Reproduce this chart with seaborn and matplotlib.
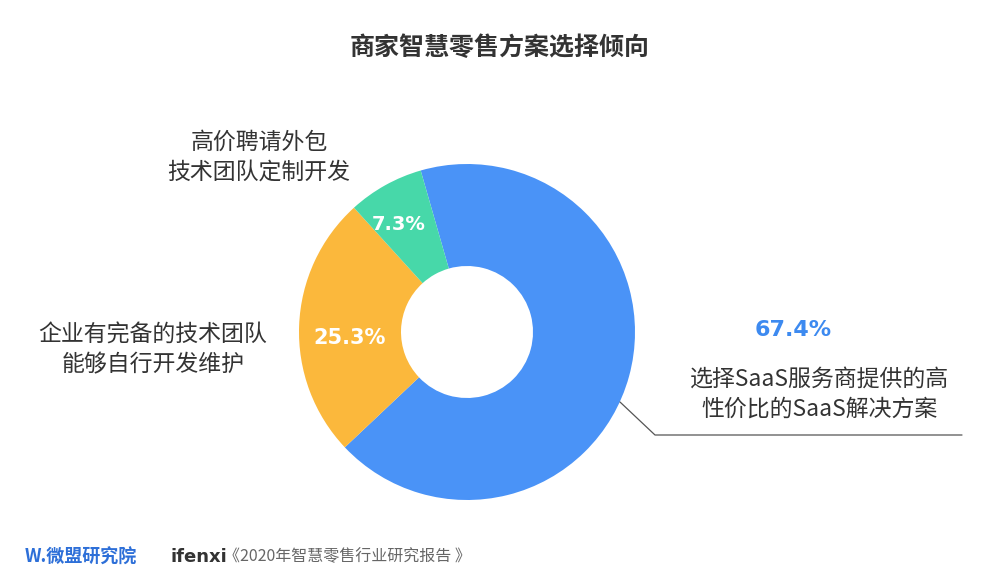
import matplotlib
matplotlib.use("Agg")
import matplotlib.pyplot as plt
import seaborn as sns

sns.set_theme(style="white")
plt.rcParams["font.family"] = "Noto Sans CJK SC"

labels = ["选择SaaS服务商提供的高\n性价比的SaaS解决方案", "企业有完备的技术团队\n能够自行开发维护", "高价聘请外包\n技术团队定制开发"]
values = [67.4, 25.3, 7.3]
pct_text = ["67.4%", "25.3%", "7.3%"]
colors = ["#4a93f7", "#fbb83c", "#47d8a9"]

W, H = 1000, 585
fig = plt.figure(figsize=(10, 5.85), dpi=100)
fig.patch.set_facecolor("white")
cx, cy, R = 467, 332, 168
ax = fig.add_axes([(cx - R) / W, (H - cy - R) / H, 2 * R / W, 2 * R / H])
ax.pie(values, colors=colors, startangle=106, counterclock=False,
       wedgeprops=dict(width=(R - 66) / R, edgecolor="none"))
ax.set_xlim(-1, 1)
ax.set_ylim(-1, 1)
ax.set_aspect("equal")
ax.patch.set_alpha(0)

def fx(x): return x / W
def fy(y): return 1 - y / H

def t(x, y, s, **kw):
    ax.text(fx(x), fy(y), s, transform=fig.transFigure, clip_on=False, zorder=10, **kw)

t(500, 48, "商家智慧零售方案选择倾向", ha="center", va="center", fontsize=18, color="#333333", fontweight="bold")
t(350, 338, pct_text[1], ha="center", va="center", fontsize=15, color="white", fontweight="bold", family="DejaVu Sans")
t(399, 224, pct_text[2], ha="center", va="center", fontsize=14, color="white", fontweight="bold", family="DejaVu Sans")
t(793, 330, pct_text[0], ha="center", va="center", fontsize=16, color="#3d8af0", fontweight="bold", family="DejaVu Sans")
t(820, 394, labels[0], ha="center", va="center", fontsize=16.5, color="#333333", linespacing=1.4)
fig.add_artist(plt.Line2D([fx(620), fx(655), fx(962)], [fy(402), fy(435), fy(435)], color="#555555", lw=0.9))
t(153, 350, labels[1], ha="center", va="center", fontsize=16.5, color="#333333", linespacing=1.4)
t(259, 157, labels[2], ha="center", va="center", fontsize=16.5, color="#333333", linespacing=1.4)

t(25, 557, "W.微盟研究院", ha="left", va="center", fontsize=13, color="#2d6fd8", fontweight="bold")
t(170, 557, "ifenxi", ha="left", va="center", fontsize=13, color="#333333", fontweight="bold", family="DejaVu Sans")
t(224, 557, "《2020年智慧零售行业研究报告 》", ha="left", va="center", fontsize=11.5, color="#666666")

fig.savefig("out.png", dpi=100, facecolor="white")
